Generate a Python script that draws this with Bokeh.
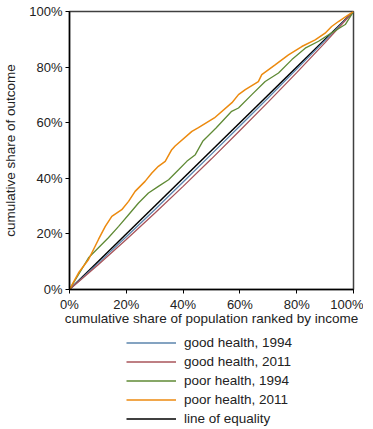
from bokeh.plotting import figure
from bokeh.layouts import column
from bokeh.models import Legend, LegendItem, NumeralTickFormatter, FixedTicker, Range1d
from bokeh.embed import file_html
from bokeh.resources import INLINE

# ---- data ----
pop_good_1994 = [0, 0.1, 0.2, 0.3, 0.4, 0.5, 0.6, 0.7, 0.8, 0.9, 1.0]
out_good_1994 = [0, 0.094, 0.19, 0.287, 0.387, 0.487, 0.588, 0.69, 0.793, 0.896, 1.0]

pop_good_2011 = [0, 0.1, 0.2, 0.3, 0.4, 0.5, 0.6, 0.7, 0.8, 0.9, 1.0]
out_good_2011 = [0, 0.088, 0.18, 0.274, 0.371, 0.47, 0.572, 0.675, 0.78, 0.888, 1.0]

pop_poor_1994 = [0, 0.032, 0.067, 0.102, 0.137, 0.173, 0.208, 0.243, 0.278, 0.313,
                 0.349, 0.384, 0.413, 0.443, 0.469, 0.516, 0.571, 0.595, 0.642, 0.689,
                 0.736, 0.783, 0.83, 0.877, 0.923, 0.971, 1.0]
out_poor_1994 = [0, 0.054, 0.114, 0.15, 0.186, 0.227, 0.269, 0.311, 0.347, 0.371,
                 0.395, 0.431, 0.461, 0.485, 0.533, 0.581, 0.641, 0.653, 0.701, 0.748,
                 0.779, 0.827, 0.868, 0.893, 0.923, 0.953, 1.0]

pop_poor_2011 = [0, 0.032, 0.067, 0.102, 0.126, 0.149, 0.184, 0.208, 0.231, 0.266,
                 0.29, 0.313, 0.337, 0.36, 0.372, 0.431, 0.454, 0.51, 0.572, 0.595,
                 0.619, 0.665, 0.677, 0.724, 0.771, 0.818, 0.865, 0.9, 0.923, 0.947, 1.0]
out_poor_2011 = [0, 0.06, 0.108, 0.18, 0.227, 0.263, 0.287, 0.317, 0.353, 0.389,
                 0.419, 0.443, 0.461, 0.503, 0.516, 0.569, 0.582, 0.617, 0.672, 0.701,
                 0.719, 0.748, 0.773, 0.808, 0.844, 0.874, 0.898, 0.922, 0.946, 0.964, 1.0]

pop_equal = [0, 1]
out_equal = [0, 1]

tick_values = [0, 0.2, 0.4, 0.6, 0.8, 1.0]

labels = ["good health, 1994", "good health, 2011", "poor health, 1994",
          "poor health, 2011", "line of equality"]
colors = ["#5b84ad", "#a8545a", "#5f8a35", "#ec8a0f", "#000000"]
widths = [1.3, 1.3, 1.3, 1.5, 1.5]

FONT = "Liberation Sans"

series = [(pop_good_1994, out_good_1994), (pop_good_2011, out_good_2011),
          (pop_poor_1994, out_poor_1994), (pop_poor_2011, out_poor_2011),
          (pop_equal, out_equal)]

p = figure(frame_width=284, frame_height=278, output_backend="svg", toolbar_location=None,
           x_range=Range1d(0, 1), y_range=Range1d(0, 1),
           min_border_left=63, min_border_right=10, min_border_top=11,
           min_border_bottom=41)
p.xgrid.visible = False
p.ygrid.visible = False
p.outline_line_color = "#404040"
p.outline_line_width = 1.5

for i in [4, 0, 1, 2, 3]:
    xs, ys = series[i]
    p.line(xs, ys, line_color=colors[i], line_width=widths[i])

for ax in (p.xaxis[0], p.yaxis[0]):
    ax.ticker = FixedTicker(ticks=tick_values)
    ax.formatter = NumeralTickFormatter(format="0%")
    ax.minor_tick_line_color = None
    ax.major_tick_out = 4
    ax.major_tick_in = 0
    ax.major_tick_line_color = "#000000"
    ax.axis_line_color = "#000000"
    ax.axis_line_width = 1.5
    ax.major_label_text_font = FONT
    ax.major_label_text_font_size = "13px"
    ax.major_label_text_color = "#222222"
    ax.axis_label_text_font = FONT
    ax.axis_label_text_font_size = "13.5px"
    ax.axis_label_text_font_style = "normal"
    ax.axis_label_text_color = "#222222"
    ax.major_label_standoff = 3

p.xaxis.axis_label = "cumulative share of population ranked by income"
p.yaxis.axis_label = "cumulative share of outcome"
p.xaxis.axis_label_standoff = -4
p.yaxis.axis_label_standoff = 8

# legend panel (separate figure below the chart, frame aligned with the chart);
# its lines are hidden, only their legend entries are shown
leg = figure(width=357, height=98, output_backend="svg", toolbar_location=None,
             x_range=Range1d(0, 1), y_range=Range1d(0, 1), min_border=0,
             x_axis_type=None, y_axis_type=None)
leg.xgrid.visible = False
leg.ygrid.visible = False
leg.outline_line_color = None
leg_renderers = []
for i in range(5):
    xs, ys = series[i]
    r = leg.line(xs, ys, line_color=colors[i], line_width=widths[i])
    r.visible = False
    leg_renderers.append(r)

items = [LegendItem(label=labels[i], renderers=[leg_renderers[i]]) for i in range(5)]
legend = Legend(items=items, location=(57, 0), orientation="vertical",
                border_line_color=None, background_fill_alpha=0,
                inactive_fill_alpha=0,
                glyph_width=50, glyph_height=19, label_height=19, spacing=0,
                label_standoff=8, padding=0, margin=0,
                label_text_font=FONT, label_text_font_size="13.5px",
                label_text_color="#222222")
leg.add_layout(legend, "center")

open("out.html", "w").write(file_html(column(p, leg, spacing=0), INLINE))
